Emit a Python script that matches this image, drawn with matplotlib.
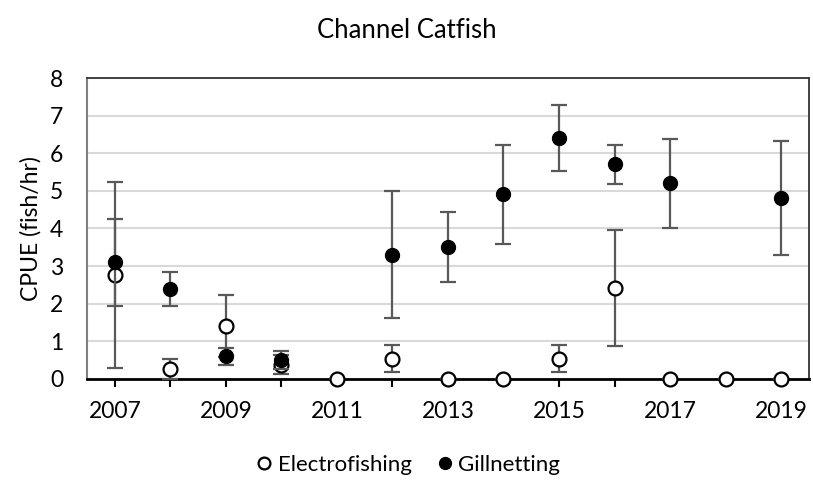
import matplotlib
matplotlib.use("Agg")
import matplotlib.pyplot as plt
import numpy as np

plt.rcParams['font.family'] = ['Lato', 'DejaVu Sans']

years = [2007, 2008, 2009, 2010, 2011, 2012, 2013, 2014, 2015, 2016, 2017, 2018, 2019]

# electrofishing CPUE and error (all years)
electro = [2.76, 0.27, 1.41, 0.38, 0.0, 0.54, 0.0, 0.0, 0.54, 2.42, 0.0, 0.0, 0.0]
electro_err = [2.48, 0.27, 0.82, 0.25, 0.0, 0.37, 0.0, 0.0, 0.37, 1.55, 0.0, 0.0, 0.0]

# gillnetting (no sampling in 2011 and 2018)
gill_years = [2007, 2008, 2009, 2010, 2012, 2013, 2014, 2015, 2016, 2017, 2019]
gill = [3.10, 2.40, 0.60, 0.50, 3.30, 3.50, 4.91, 6.41, 5.71, 5.20, 4.81]
gill_err = [1.16, 0.45, 0.22, 0.25, 1.69, 0.93, 1.31, 0.87, 0.52, 1.19, 1.52]

fig = plt.figure(figsize=(8.13, 4.82), dpi=100)
ax = fig.add_axes([0.107, 0.214, 0.888, 0.624])

err_col = '#595959'
ax.errorbar(years, electro, yerr=electro_err, fmt='o', ms=10, mfc='white', mec='black',
            mew=1.6, ecolor=err_col, elinewidth=1.6, capsize=6, capthick=1.6,
            label='Electrofishing', zorder=3, clip_on=False)
ax.errorbar(gill_years, gill, yerr=gill_err, fmt='o', ms=10, mfc='black', mec='black',
            ecolor=err_col, elinewidth=1.6, capsize=6, capthick=1.6,
            label='Gillnetting', zorder=4, clip_on=False)

ax.set_xlim(2006.5, 2019.5)
ax.set_ylim(0, 8)
ax.set_xticks(years)
ax.set_xticklabels([str(y) if y % 2 == 1 else '' for y in years])
ax.set_yticks(range(0, 9))
ax.yaxis.grid(True, color='#d9d9d9', lw=1.5)
ax.set_axisbelow(True)
ax.tick_params(axis='y', length=0, labelsize=16.5, pad=17)
ax.tick_params(axis='x', length=6, width=1.5, labelsize=16.5, pad=10, direction='out')

ax.spines['left'].set_color('#808080')
ax.spines['left'].set_linewidth(1.5)
ax.spines['bottom'].set_color('black')
ax.spines['bottom'].set_linewidth(2)
ax.spines['top'].set_color('#333333')
ax.spines['right'].set_color('#333333')
ax.spines['top'].set_linewidth(1.3)
ax.spines['right'].set_linewidth(1.3)

ax.set_ylabel('CPUE (fish/hr)', fontsize=16.5, labelpad=6)
fig.text(0.5, 0.937, 'Channel Catfish', ha='center', va='center', fontsize=18.5)

handles, labels = ax.get_legend_handles_labels()
handles = [h[0] for h in handles]
fig.legend(handles, labels, loc='center', bbox_to_anchor=(0.5, 0.035), ncol=2,
           frameon=False, fontsize=16, handletextpad=0.1, columnspacing=1.0,
           markerscale=0.85, handlelength=1.0)

fig.savefig('out.png', dpi=100)
